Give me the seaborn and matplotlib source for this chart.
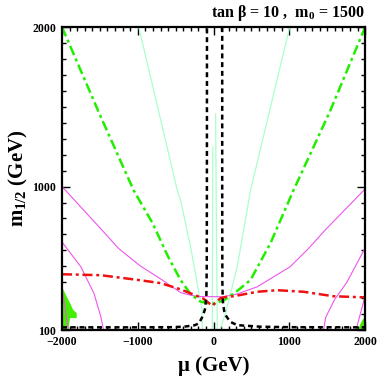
import numpy as np
import matplotlib
matplotlib.use("Agg")
import matplotlib.pyplot as plt
import seaborn as sns

# ----------------------
# DATA (mu, m_1/2 in GeV)
# ----------------------
# chargino mass limit (black dashed)
chi_left_mu = [-2000, -1000, -566, -390, -250, -193, -140, -110, -95, -90, -88, -87]
chi_left_m = [117, 117, 118, 121, 130, 142, 190, 236, 320, 500, 1000, 2000]
chi_right_mu = [114, 114, 116, 122, 140, 158, 218, 311, 393, 618, 1000, 2000]
chi_right_m = [2000, 1000, 400, 280, 220, 194, 152, 131, 128, 121, 118, 117]

# green dash-dot
grn_mu = [-2000, -1500, -1053, -803, -600, -434, -303, -171, -42, 0, 134, 311, 487, 750, 1053, 1539, 2000]
grn_m = [2000, 1450, 975, 769, 560, 413, 325, 278, 265, 266, 285, 345, 414, 644, 975, 1475, 2000]

# red dash-dot
red_mu = [-2000, -1487, -960, -697, -434, -303, -138, -17, 92, 176, 263, 575, 838, 1188, 1583, 2000]
red_m = [450, 444, 412, 394, 355, 330, 298, 252, 300, 309, 312, 340, 350, 340, 312, 305]

# magenta thin contours
mag_a_mu = [-2000, -1472, -1250, -960, -697, -434, -300, -200, 130, 300, 575, 1010, 1250, 1472, 2000]
mag_a_m = [1000, 727, 610, 500, 420, 335, 318, 310, 309, 325, 371, 497, 610, 727, 985]
mag_b_mu = [-2000, -1750, -1579, -1487, -1452]
mag_b_m = [652, 496, 331, 183, 100]
mag_c_mu = [1450, 1480, 1595, 1759, 2000]
mag_c_m = [100, 180, 290, 400, 615]
mag_d_mu = [1880, 1930, 1975, 2000]
mag_d_m = [100, 190, 270, 320]
mag_e_mu = [-2000, -1960, -1917]
mag_e_m = [355, 240, 100]

# pale green thin contours
mint_l_mu = [-987, -478, -434, -303, -193, -149, -149]
mint_l_m = [2000, 975, 912, 620, 331, 225, 100]
mint_r_mu = [1004, 487, 465, 311, 201, 158, 92, 90]
mint_r_m = [2000, 975, 912, 496, 287, 206, 112, 100]
mint_c1_mu = [-10, -17]
mint_c1_m = [1250, 100]
mint_c2_mu = [26, 49]
mint_c2_m = [1456, 100]

# bright green filled regions
patch_l_mu = [-2000, -1938, -1894, -1851, -1806, -1806, -1894, -1917, -2000]
patch_l_m = [372, 309, 269, 225, 207, 175, 175, 100, 100]
patch_r_mu = [1910, 1930, 1960, 1990, 2000, 2000]
patch_r_m = [100, 130, 160, 178, 175, 100]

# ----------------------
# STYLE
# ----------------------
sns.set_style("ticks")
plt.rcParams['font.family'] = ['Liberation Serif', 'DejaVu Serif']
plt.rcParams['font.weight'] = 'bold'
plt.rcParams['mathtext.default'] = 'regular'
for key in ['text.color', 'axes.labelcolor', 'xtick.color', 'ytick.color', 'axes.edgecolor']:
    plt.rcParams[key] = 'black'

fig = plt.figure(figsize=(3.78, 3.82), dpi=100)
ax = fig.add_axes([0.164, 0.136, 0.802, 0.793])


def draw(mu, m, **kw):
    sns.lineplot(x=mu, y=m, sort=False, estimator=None, ax=ax, legend=False, **kw)


# filled patches
ax.fill(patch_l_mu, patch_l_m, color='#44ee00', lw=0, zorder=1)
ax.fill(patch_r_mu, patch_r_m, color='#44ee00', lw=0, zorder=1)

# pale green
for mu, m in [(mint_l_mu, mint_l_m), (mint_r_mu, mint_r_m),
              (mint_c1_mu, mint_c1_m), (mint_c2_mu, mint_c2_m)]:
    draw(mu, m, color='#aaffcc', linewidth=0.9)

# magenta
for mu, m in [(mag_a_mu, mag_a_m), (mag_b_mu, mag_b_m), (mag_c_mu, mag_c_m),
              (mag_d_mu, mag_d_m), (mag_e_mu, mag_e_m)]:
    draw(mu, m, color='#ee55ee', linewidth=0.8)

# green dash-dot
draw(grn_mu, grn_m, color='#22ee00', linewidth=1.8, linestyle=(0, (4, 1.5, 1.2, 1.5)))

# red dash-dot
draw(red_mu, red_m, color='#ee1111', linewidth=1.8, linestyle=(0, (4, 1.5, 1.2, 1.5)))

# black dashed
draw(chi_left_mu, chi_left_m, color='black', linewidth=1.8, linestyle=(0, (2, 1.5)))
draw(chi_right_mu, chi_right_m, color='black', linewidth=1.8, linestyle=(0, (2, 1.5)))

# ----------------------
# AXES
# ----------------------
ax.set_xlim(-2000, 2000)
ax.set_ylim(100, 2000)
ax.set_xticks([-2000, -1000, 0, 1000, 2000])
ax.set_xticks(np.arange(-2000, 2001, 100), minor=True)
ax.set_yticks([100, 1000, 2000])
ax.set_yticks(np.arange(100, 2001, 100), minor=True)
ax.tick_params(which='both', direction='in', top=True, right=True, width=1, colors='black')
ax.tick_params(which='major', length=6, labelsize=8.5, pad=4)
ax.tick_params(which='minor', length=3)
for lab in ax.get_xticklabels() + ax.get_yticklabels():
    lab.set_fontweight('bold')
for sp in ax.spines.values():
    sp.set_linewidth(1.6)
    sp.set_color('black')

ax.set_xlabel("μ (GeV)", fontsize=15, fontweight='bold', labelpad=6)
ax.set_ylabel("m$_{1/2}$ (GeV)", fontsize=15, fontweight='bold', labelpad=2)
fig.text(0.966, 0.94, "tan β = 10 ,  m$_0$ = 1500", ha='right', va='bottom',
         fontsize=11.5, fontweight='bold')

fig.savefig("out.png", dpi=100)
